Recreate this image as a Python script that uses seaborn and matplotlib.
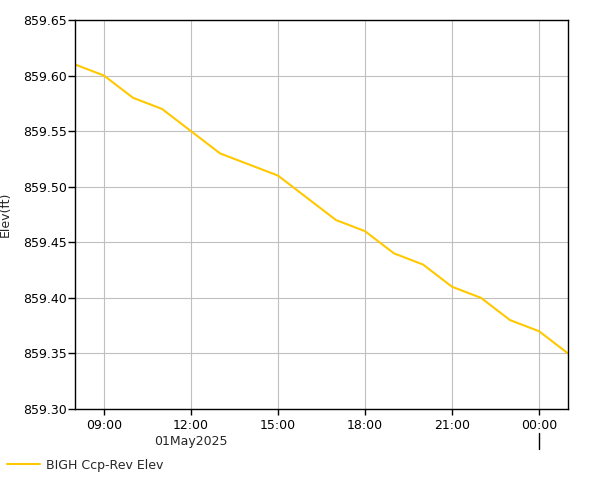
import numpy as np
import pandas as pd
import matplotlib
matplotlib.use("Agg")
import matplotlib.pyplot as plt
import matplotlib.dates as mdates
import seaborn as sns

times = pd.date_range("2025-05-01 08:00", "2025-05-02 01:00", freq="h")
elev = [859.61, 859.60, 859.58, 859.57, 859.55, 859.53, 859.52, 859.51, 859.49,
        859.47, 859.46, 859.44, 859.43, 859.41, 859.40, 859.38, 859.37, 859.35]
series_name = "BIGH Ccp-Rev Elev"
y_ticks = [859.30, 859.35, 859.40, 859.45, 859.50, 859.55, 859.60, 859.65]

df = pd.DataFrame({"time": times, "elev": elev, "series": series_name})

sns.set_style("white")
plt.rcParams["font.family"] = ["DejaVu Sans"]
FS = 9

fig = plt.figure(figsize=(6.01, 4.80), dpi=100)
ax = fig.add_axes([75/601, 71/480, (568-75)/601, (409-20)/480])

sns.lineplot(data=df, x="time", y="elev", hue="series", palette=["#FFC800"],
             linewidth=1.5, ax=ax, legend=False)

ax.set_xlim(times[0], times[-1])
ax.set_ylim(859.30, 859.65)
ax.set_yticks(y_ticks)
ax.set_yticklabels([f"{v:.2f}" for v in y_ticks])
ax.xaxis.set_major_locator(mdates.HourLocator(byhour=[0, 3, 6, 9, 12, 15, 18, 21]))
ax.xaxis.set_major_formatter(mdates.DateFormatter("%H:%M"))
ax.grid(True, color="#c0c0c0", linewidth=0.8)
ax.set_axisbelow(True)
for s in ax.spines.values():
    s.set_color("black")
    s.set_linewidth(1)
ax.tick_params(axis="y", labelsize=FS, colors="black", length=5, width=1,
               direction="out", left=True, pad=1)
ax.tick_params(axis="x", labelsize=FS, colors="black", length=4, width=1,
               direction="out", bottom=True, pad=3)
ax.set_xlabel("")
ax.set_ylabel("Elev(ft)", fontsize=FS)
ax.yaxis.set_label_coords(-0.128, 0.5)

# date label under noon
ax.annotate("01May2025", xy=(mdates.date2num(pd.Timestamp("2025-05-01 12:00")), 0),
            xycoords=("data", "axes fraction"), xytext=(0, -23.5), textcoords="offset points",
            ha="center", va="center", fontsize=FS)
# day separator mark at midnight
mid = mdates.date2num(pd.Timestamp("2025-05-02 00:00"))
ax.plot([mid, mid], [-0.062, -0.103], transform=ax.get_xaxis_transform(),
        color="black", linewidth=1, clip_on=False)

# legend at bottom-left
fig.legend(handles=[plt.Line2D([], [], color="#FFC800", linewidth=1.5)],
           labels=[series_name], loc="center left", bbox_to_anchor=(7/601, 15/480),
           frameon=False, fontsize=FS, handlelength=2.6, handletextpad=0.55,
           borderaxespad=0, borderpad=0)

fig.savefig("out.png", dpi=100)
